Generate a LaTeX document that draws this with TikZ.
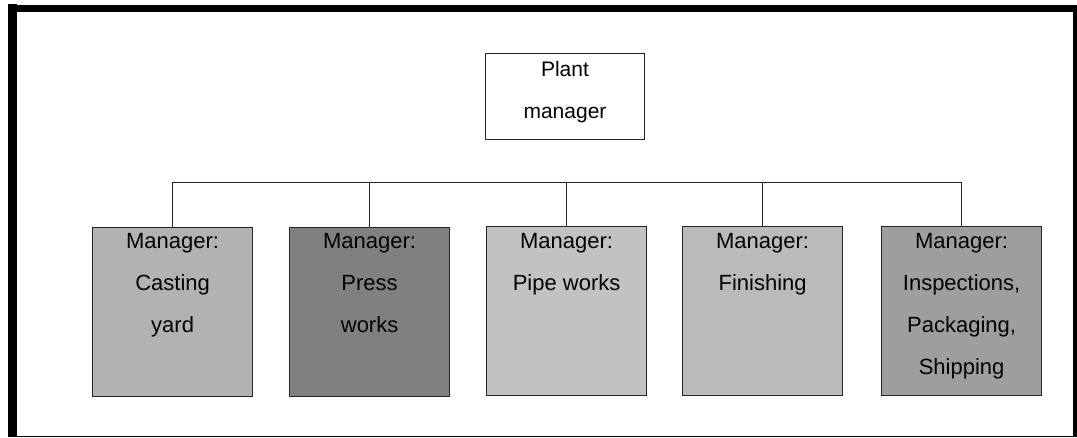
\documentclass[tikz,border=0pt]{standalone}
\usepackage{fontspec}
\setmainfont{Liberation Sans}
\begin{document}
\begin{tikzpicture}[x=1pt,y=-1pt,
  unitbox/.style={draw=black!85, line width=1.2pt, minimum width=160pt,
    minimum height=169pt, inner sep=0pt, anchor=north west},
  boxtext/.style={anchor=north, inner sep=0pt, align=center,
    font=\fontsize{22}{42}\selectfont},
  link/.style={draw=black!85, line width=1pt}]
\useasboundingbox (0,0) rectangle (1077,438);

% outer frame: thin outline, heavy left, top and right sides
\draw[line width=1.5pt] (12.5,8.5) rectangle (1075,436.5);
\draw[line width=8.5pt] (12.5,436.5) -- (12.5,4.5);
\draw[line width=7pt] (8.3,8.5) -- (1077,8.5);
\draw[line width=4pt] (1075,5) -- (1075,437);

% top position
\node[draw=black!85, line width=1pt, minimum width=159pt, minimum height=86pt,
  inner sep=0pt, anchor=north west] (pm) at (485,53) {};
\node[boxtext, font=\fontsize{21}{42}\selectfont] (pmt) at ([yshift=-8pt]pm.north) {Plant\\manager};

% unit managers
\node[unitbox, fill=black!30] (b1) at (92,227) {};
\node[unitbox, fill=black!50] (b2) at (289,227) {};
\node[unitbox, fill=black!24] (b3) at (486,226) {};
\node[unitbox, fill=black!27] (b4) at (682,226) {};
\node[unitbox, fill=black!38] (b5) at (881,226) {};

\node[boxtext] (t1) at ([yshift=-6pt]b1.north) {Manager:\\Casting\\yard};
\node[boxtext] (t2) at ([yshift=-6pt]b2.north) {Manager:\\Press\\works};
\node[boxtext] (t3) at ([yshift=-7pt]b3.north) {Manager:\\Pipe works};
\node[boxtext] (t4) at ([yshift=-7pt]b4.north) {Manager:\\Finishing};
\node[boxtext] (t5) at ([yshift=-7pt]b5.north) {Manager:\\Inspections,\\Packaging,\\Shipping};

% reporting lines
\draw[link] (b1.north) -- ++(0,-44) -| (b5.north);
\draw[link] (b2.north) -- ++(0,-44);
\draw[link] (b3.north) -- ++(0,-43);
\draw[link] (b4.north) -- ++(0,-43);
\end{tikzpicture}
\end{document}
